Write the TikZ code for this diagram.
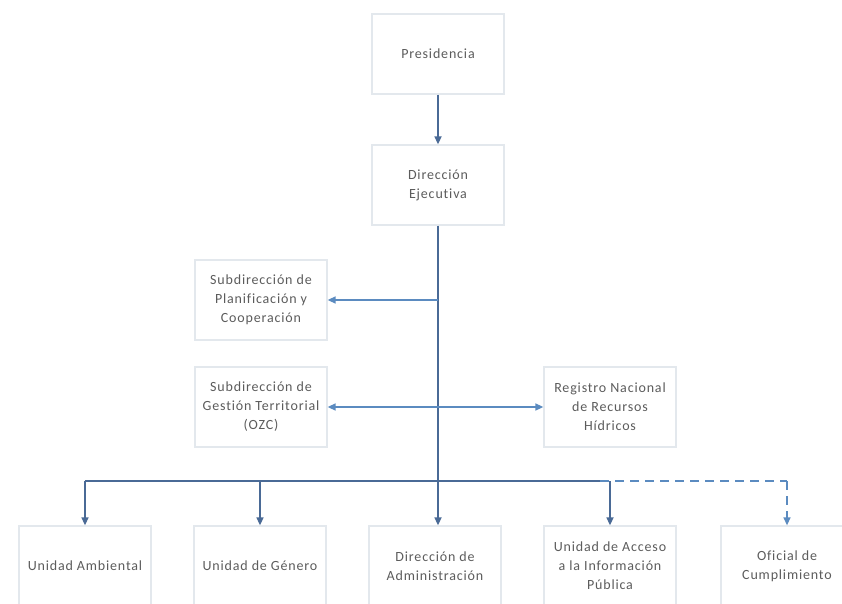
\documentclass[tikz,border=0pt]{standalone}
\usepackage{fontspec}
\setmainfont{Carlito}[LetterSpace=6, Ligatures={NoCommon}]
\usetikzlibrary{arrows.meta}
\definecolor{boxline}{HTML}{E3E8ED}
\definecolor{txt}{HTML}{5C5C5C}
\definecolor{vlink}{HTML}{4A6A96}
\definecolor{hlink}{HTML}{5B8BC0}
\tikzset{
  unit/.style={draw=boxline, line width=1.3pt, fill=white, rectangle,
    minimum width=132pt, minimum height=80pt, align=center, text=txt,
    font=\fontsize{14}{19}\selectfont, inner sep=2pt},
  tip/.style={-{Triangle[length=8pt,width=7pt]}},
  vline/.style={draw=vlink, line width=1.6pt},
  hline/.style={draw=hlink, line width=1.6pt},
  dashline/.style={draw=hlink, line width=1.4pt, dash pattern=on 9pt off 6pt}
}
\begin{document}
\begin{tikzpicture}[x=1pt,y=-1pt]
  \useasboundingbox (0,0) rectangle (842,604);
  \fill[white] (0,0) rectangle (842,604);

  % organisational units
  \node[unit] (pres) at (438,54)  {Presidencia};
  \node[unit] (dir)  at (438,185) {Dirección\\Ejecutiva};
  \node[unit] (plan) at (261,300) {Subdirección de\\Planificación y\\Cooperación};
  \node[unit] (gest) at (261,407) {Subdirección de\\Gestión Territorial\\(OZC)};
  \node[unit] (reg)  at (610,407) {Registro Nacional\\de Recursos\\Hídricos};
  \node[unit] (amb)  at (85,566)  {Unidad Ambiental};
  \node[unit] (gen)  at (260,566) {Unidad de Género};
  \node[unit] (adm)  at (435,566) {Dirección de\\Administración};
  \node[unit] (acc)  at (610,566) {Unidad de Acceso\\a la Información\\Pública};
  \node[unit] (ofi)  at (787,566) {Oficial de\\Cumplimiento};

  % junction points on the distribution bar
  \coordinate (bus) at (0,481);
  \coordinate (busL) at (amb.north |- bus);
  \coordinate (busA) at (acc.north |- bus);
  \coordinate (busD) at (600,481);
  \coordinate (busO) at (ofi.north |- bus);

  % links
  \draw[vline,tip] (pres.south) -- (dir.north);
  \draw[vline,tip] (dir.south) -- (dir.south |- adm.north);
  \draw[hline,tip] (dir.south |- plan.east) -- (plan.east);
  \draw[hline,{Triangle[length=8pt,width=7pt]}-{Triangle[length=8pt,width=7pt]}] (gest.east) -- (reg.west);
  \draw[vline] (busL) -- (busD);
  \draw[dashline] (busD) -- (busO);
  \draw[vline,tip] (busL) -- (amb.north);
  \draw[vline,tip] (gen.north |- bus) -- (gen.north);
  \draw[vline,tip] (busA) -- (acc.north);
  \draw[dashline,tip] (busO) -- (ofi.north);
\end{tikzpicture}
\end{document}
